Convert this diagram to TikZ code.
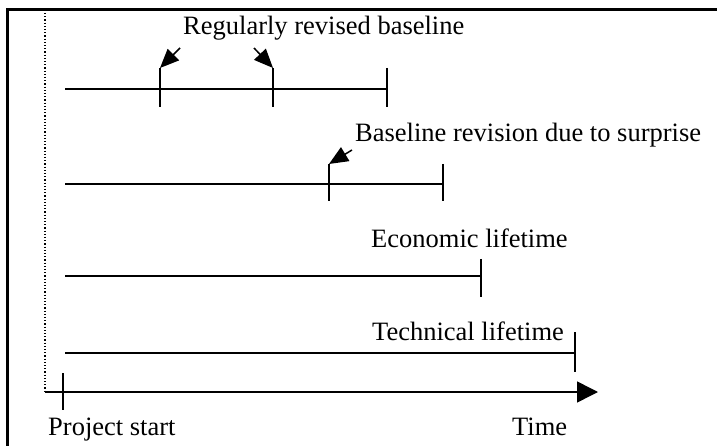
\documentclass[tikz,border=0pt]{standalone}
\usepackage{fontspec}
\setmainfont{Liberation Serif}
\usetikzlibrary{arrows.meta}
\begin{document}
\begin{tikzpicture}[x=1pt,y=-1pt,
  lbl/.style={anchor=base west,inner sep=0pt,font=\fontsize{26.5}{30}\selectfont},
  bar/.style={line width=1.5pt},
  ptr/.style={line width=1.5pt,-{Triangle[length=19pt,width=16pt]}},
  frame/.style={line width=3pt}]
\useasboundingbox (0,0) rectangle (717,446);
% frame
\draw[frame] (7,446) -- (7,10) -- (717,10);
% dotted vertical
\coordinate (dtop) at (45,13);
\coordinate (ax0) at (45,392);
\coordinate (ax1) at (598,392);
\draw[line width=1.2pt,dotted] (dtop) -- (ax0);
\draw[line width=1.5pt,-{Triangle[length=21pt,width=21pt]}] (ax0) -- (ax1);
% project start tick
\coordinate (ps1) at (63,373);
\coordinate (ps2) at (63,410);
\draw[bar] (ps1) -- (ps2);
\node[lbl] (pstart) at (48,435) {Project start};
\node[lbl] (time) at (512,435) {Time};
% row 1
\coordinate (r1s) at (65,89);
\coordinate (r1e) at (387,89);
\draw[bar] (r1s) -- (r1e);
\coordinate (t1a) at (160,68); \coordinate (t1b) at (160,107);
\coordinate (t2a) at (273,68); \coordinate (t2b) at (273,107);
\coordinate (t3a) at (387,68); \coordinate (t3b) at (387,107);
\draw[bar] (t1a) -- (t1b);
\draw[bar] (t2a) -- (t2b);
\draw[bar] (t3a) -- (t3b);
\node[lbl] (regl) at (183,35) {Regularly revised baseline};
\coordinate (a1) at (180,48);
\coordinate (a2) at (254,48);
\draw[ptr] (a1) -- (t1a);
\draw[ptr] (a2) -- (t2a);
% row 2
\coordinate (r2s) at (65,184);
\coordinate (r2e) at (443,184);
\draw[bar] (r2s) -- (r2e);
\coordinate (u1a) at (329,164); \coordinate (u1b) at (329,201);
\coordinate (u2a) at (443,164); \coordinate (u2b) at (443,201);
\draw[bar] (u1a) -- (u1b);
\draw[bar] (u2a) -- (u2b);
\node[lbl] (surp) at (355,142) {Baseline revision due to surprise};
\coordinate (a3) at (352,150);
\draw[ptr] (a3) -- (u1a);
% row 3
\coordinate (r3s) at (65,276);
\coordinate (r3e) at (481,276);
\draw[bar] (r3s) -- (r3e);
\coordinate (v1a) at (481,259); \coordinate (v1b) at (481,297);
\draw[bar] (v1a) -- (v1b);
\node[lbl] (econ) at (371,248) {Economic lifetime};
% row 4
\coordinate (r4s) at (65,353);
\coordinate (r4e) at (575,353);
\draw[bar] (r4s) -- (r4e);
\coordinate (w1a) at (575,332); \coordinate (w1b) at (575,372);
\draw[bar] (w1a) -- (w1b);
\node[lbl] (tech) at (372,340) {Technical lifetime};
\end{tikzpicture}
\end{document}
